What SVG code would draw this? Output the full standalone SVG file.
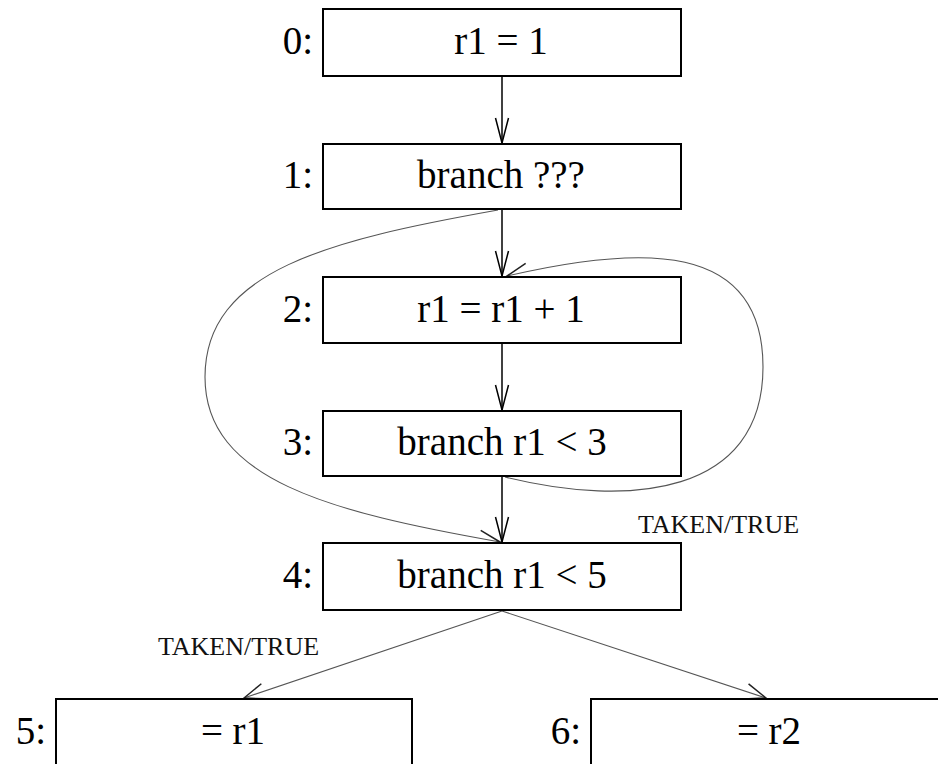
<svg xmlns="http://www.w3.org/2000/svg" width="938" height="764" viewBox="0 0 938 764">
<style>
.box{fill:#fff;stroke:#000;stroke-width:2}
text{font-family:'Liberation Serif','DejaVu Serif',serif}
.t{font-size:39px;fill:#000}
.lbl{font-size:39px;fill:#000;text-anchor:end}
.mid{text-anchor:middle}
.small{font-size:26px;fill:#111}
.e{fill:none;stroke:#000;stroke-width:1.5}
.g{fill:none;stroke:#555;stroke-width:1.1}
</style>
<defs>
<marker id="ab" viewBox="-27 -10 29 20" refX="0" refY="0" markerWidth="29" markerHeight="20" markerUnits="userSpaceOnUse" orient="auto">
<path d="M-25,-6.5 L0,0 L-25,6.5" fill="none" stroke="#000" stroke-width="1.5"/>
</marker>
<marker id="ag" viewBox="-27 -10 29 20" refX="0" refY="0" markerWidth="29" markerHeight="20" markerUnits="userSpaceOnUse" orient="auto">
<path d="M-21,-8 L0,0 L-21,8" fill="none" stroke="#222" stroke-width="1.5"/>
</marker>
</defs>
<rect width="938" height="764" fill="#fff"/>
<g id="connectors">
<line class="e" x1="502" y1="76" x2="502" y2="143" marker-end="url(#ab)"/>
<line class="e" x1="502" y1="209" x2="502" y2="276" marker-end="url(#ab)"/>
<line class="e" x1="502" y1="343" x2="502" y2="410" marker-end="url(#ab)"/>
<line class="e" x1="502" y1="476" x2="502" y2="542" marker-end="url(#ab)"/>
<path class="g" d="M498,210 C330,240 205,270 205,377 C205,480 330,512 500,542" marker-end="url(#ag)"/>
<path class="g" d="M505,477 C630,508 763,495 763,367 C763,240 640,245 507,276" marker-end="url(#ag)"/>
<line class="g" x1="502" y1="611" x2="244" y2="698" marker-end="url(#ag)"/>
<line class="g" x1="502" y1="611" x2="766" y2="698" marker-end="url(#ag)"/>
<text class="small" x="638" y="533">TAKEN/TRUE</text>
<text class="small" x="158" y="655">TAKEN/TRUE</text>
</g>
<g id="n0">
<rect class="box" x="323" y="9" width="358" height="67"/>
<text class="lbl" x="313" y="54">0:</text>
<text class="t mid" x="501" y="54">r1 = 1</text>
</g>
<g id="n1">
<rect class="box" x="323" y="144" width="358" height="65"/>
<text class="lbl" x="313" y="188">1:</text>
<text class="t mid" x="501" y="188">branch ???</text>
</g>
<g id="n2">
<rect class="box" x="323" y="277" width="358" height="66"/>
<text class="lbl" x="313" y="322">2:</text>
<text class="t mid" x="501" y="322">r1 = r1 + 1</text>
</g>
<g id="n3">
<rect class="box" x="323" y="411" width="358" height="65"/>
<text class="lbl" x="313" y="455">3:</text>
<text class="t mid" x="502" y="455">branch r1 &lt; 3</text>
</g>
<g id="n4">
<rect class="box" x="323" y="543" width="358" height="67"/>
<text class="lbl" x="313" y="588">4:</text>
<text class="t mid" x="502" y="588">branch r1 &lt; 5</text>
</g>
<g id="n5">
<rect class="box" x="56" y="699" width="356" height="80"/>
<text class="lbl" x="46" y="744">5:</text>
<text class="t mid" x="233" y="744">= r1</text>
</g>
<g id="n6">
<rect class="box" x="591" y="699" width="356" height="80"/>
<text class="lbl" x="581" y="744">6:</text>
<text class="t mid" x="769" y="744">= r2</text>
</g>
</svg>
